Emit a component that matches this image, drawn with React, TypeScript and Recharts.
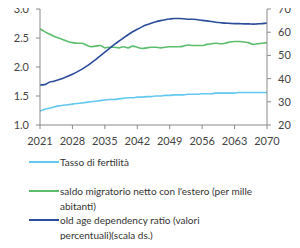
import React from "react";
import { LineChart, Line, XAxis, YAxis } from "recharts";

const years = [
  2021, 2022, 2023, 2024, 2025, 2026, 2027, 2028, 2029, 2030,
  2031, 2032, 2033, 2034, 2035, 2036, 2037, 2038, 2039, 2040,
  2041, 2042, 2043, 2044, 2045, 2046, 2047, 2048, 2049, 2050,
  2051, 2052, 2053, 2054, 2055, 2056, 2057, 2058, 2059, 2060,
  2061, 2062, 2063, 2064, 2065, 2066, 2067, 2068, 2069, 2070,
];

// fertility rate (left axis)
const fertilita = [
  1.24, 1.27, 1.29, 1.31, 1.33, 1.34, 1.35, 1.36, 1.37, 1.38,
  1.39, 1.4, 1.41, 1.42, 1.43, 1.44, 1.44, 1.45, 1.46, 1.47,
  1.47, 1.48, 1.48, 1.49, 1.49, 1.5, 1.5, 1.51, 1.51, 1.52,
  1.52, 1.52, 1.53, 1.53, 1.53, 1.54, 1.54, 1.54, 1.55, 1.55,
  1.55, 1.55, 1.55, 1.56, 1.56, 1.56, 1.56, 1.56, 1.56, 1.56,
];

// net migration per 1000 inhabitants (left axis)
const saldoMigratorio = [
  2.66, 2.61, 2.57, 2.53, 2.5, 2.47, 2.44, 2.42, 2.41, 2.41,
  2.38, 2.35, 2.36, 2.37, 2.33, 2.34, 2.34, 2.33, 2.35, 2.33,
  2.36, 2.34, 2.32, 2.33, 2.34, 2.34, 2.33, 2.34, 2.35, 2.35,
  2.35, 2.36, 2.38, 2.37, 2.37, 2.37, 2.39, 2.4, 2.41, 2.4,
  2.41, 2.43, 2.44, 2.44, 2.43, 2.42, 2.39, 2.4, 2.41, 2.42,
];

// old age dependency ratio, % (right axis)
const oadr = [
  37.3, 37.4, 38.4, 38.9, 39.5, 40.2, 41.0, 41.9, 42.9, 44.0,
  45.3, 46.7, 48.2, 49.8, 51.4, 53.0, 54.6, 56.1, 57.5, 58.9,
  60.2, 61.3, 62.3, 63.2, 63.9, 64.5, 65.0, 65.4, 65.7, 65.9,
  65.9, 65.8, 65.6, 65.6, 65.4, 65.1, 64.9, 64.6, 64.3, 64.1,
  63.9, 63.8, 63.7, 63.7, 63.6, 63.6, 63.5, 63.6, 63.7, 63.9,
];

const xTicks = [2021, 2028, 2035, 2042, 2049, 2056, 2063, 2070];
const leftTicks = [1.0, 1.5, 2.0, 2.5, 3.0];
const rightTicks = [20, 30, 40, 50, 60, 70];

// legend labels, one entry per printed line
const series = [
  { key: "fertilita", label: ["Tasso di fertilità"], color: "#62c8ef", axis: "left" },
  {
    key: "saldo",
    label: ["saldo migratorio netto con l'estero (per mille", "abitanti)"],
    color: "#5cbd6c",
    axis: "left",
  },
  {
    key: "oadr",
    label: ["old age dependency ratio (valori", "percentuali)(scala ds.)"],
    color: "#2b4c9b",
    axis: "right",
  },
];

const data = years.map((year, i) => ({
  year,
  fertilita: fertilita[i],
  saldo: saldoMigratorio[i],
  oadr: oadr[i],
}));

const FONT = "Lato, 'Open Sans', sans-serif";
const AXIS = "#8a8a8a";
const tick = { fontSize: 11, fill: "#444", fontFamily: FONT };
const LEGEND_LINE = 14.5;

export default function App() {
  return (
    <div style={{ margin: -8, width: 300, height: 248, background: "#fff", position: "relative", fontFamily: FONT }}>
      <LineChart width={300} height={148} data={data} margin={{ top: 9, right: 0, bottom: 0, left: 0 }}>
        <XAxis
          dataKey="year"
          type="number"
          domain={[2021, 2070]}
          ticks={xTicks}
          interval={0}
          tick={tick}
          tickSize={4}
          tickMargin={8}
          stroke={AXIS}
          height={23}
        />
        <YAxis
          yAxisId="left"
          domain={[1, 3]}
          ticks={leftTicks}
          tickFormatter={(v: number) => v.toFixed(1)}
          tick={tick}
          tickSize={4}
          tickMargin={7}
          stroke={AXIS}
          width={40}
        />
        <YAxis
          yAxisId="right"
          orientation="right"
          domain={[20, 70]}
          ticks={rightTicks}
          tick={tick}
          tickSize={4}
          tickMargin={7}
          stroke={AXIS}
          width={33}
        />
        {series.map((s) => (
          <Line
            key={s.key}
            yAxisId={s.axis}
            dataKey={s.key}
            stroke={s.color}
            strokeWidth={1.6}
            dot={false}
            type="monotone"
            isAnimationActive={false}
          />
        ))}
      </LineChart>
      <div
        style={{
          position: "absolute",
          top: 155,
          left: 29,
          width: 260,
          fontSize: 10,
          color: "#333",
          lineHeight: `${LEGEND_LINE}px`,
        }}
      >
        {series.map((s) => (
          <div key={s.key} style={{ display: "flex", alignItems: "flex-start", minHeight: LEGEND_LINE * 2 }}>
            <div style={{ width: 30, height: 2, background: s.color, marginTop: 6, flex: "none" }} />
            <div style={{ paddingLeft: 1, whiteSpace: "nowrap" }}>
              {s.label.map((line) => (
                <div key={line}>{line}</div>
              ))}
            </div>
          </div>
        ))}
      </div>
    </div>
  );
}
